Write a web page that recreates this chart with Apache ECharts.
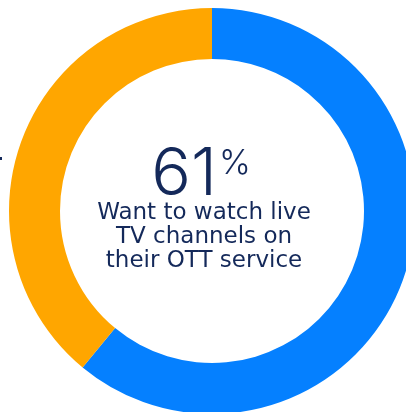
<!DOCTYPE html>
<html>
<head>
<meta charset="utf-8">
<script src="https://cdn.jsdelivr.net/npm/echarts@6/dist/echarts.min.js"></script>
<style>
  html, body { margin: 0; padding: 0; background: #fff; }
  #chart { width: 406px; height: 412px; }
</style>
</head>
<body>
<div id="chart"></div>
<script>
// data
const categories = ["Want live TV", "Other"];
const shares = [61, 39];
const colors = ["#0580FF", "#FFA600"];
const headline = "61";
const caption = ["Want to watch live", "TV channels on", "their OTT service"];

const ink = "#14295A";
const chart = echarts.init(document.getElementById("chart"));
chart.setOption({
  animation: false,
  title: {
    text: caption.join("\n"),
    left: 199,
    top: 196,
    textAlign: "center",
    textStyle: {
      fontFamily: "DejaVu Sans",
      fontSize: 23,
      fontWeight: "normal",
      lineHeight: 24,
      color: ink,
      align: "center"
    }
  },
  series: [
    {
      type: "pie",
      center: [212, 211],
      radius: [152, 203],
      startAngle: 90,
      clockwise: true,
      silent: true,
      label: { show: false },
      labelLine: { show: false },
      data: categories.map((c, i) => ({
        name: c,
        value: shares[i],
        itemStyle: { color: colors[i] }
      }))
    }
  ],
  graphic: [
    {
      type: "text", x: 217, y: 142,
      style: { text: headline, fontFamily: "Inter", fontSize: 66, fontWeight: 300, fill: ink, align: "right", verticalAlign: "top" }
    },
    {
      type: "text", x: 219, y: 147,
      style: { text: "%", fontFamily: "Inter", fontSize: 34, fontWeight: 300, fill: ink, align: "left", verticalAlign: "top" }
    },
    { type: "rect", left: 0, top: 157, shape: { width: 2, height: 3 }, style: { fill: ink } }
  ]
});
</script>
</body>
</html>
